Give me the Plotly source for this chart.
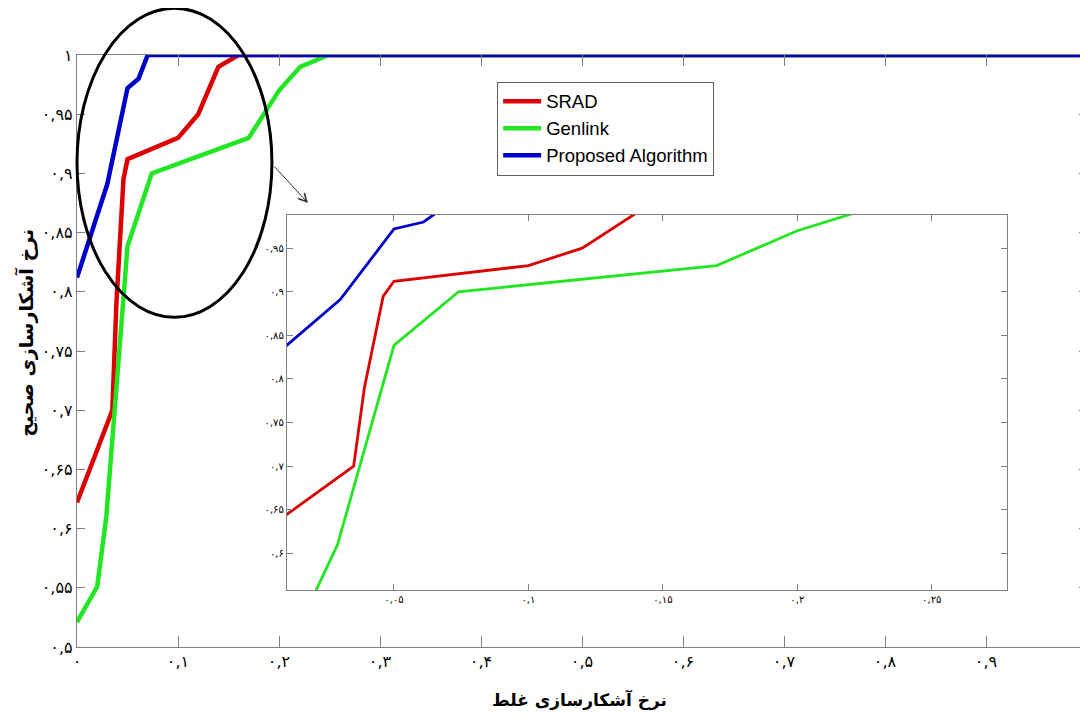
import plotly.graph_objects as go

# ---- data ----
series_names = ["SRAD", "Genlink", "Proposed Algorithm"]
series_colors = ["#dd0000", "#22e622", "#0000c8"]

fpr_srad = [0.0, 0.035, 0.039, 0.046, 0.05, 0.10, 0.12, 0.14, 0.16, 1.0]
tpr_srad = [0.622, 0.70, 0.79, 0.895, 0.912, 0.93, 0.95, 0.99, 1.0, 1.0]

fpr_genlink = [0.0, 0.02, 0.029, 0.05, 0.074, 0.17, 0.20, 0.221, 0.249, 1.0]
tpr_genlink = [0.521, 0.551, 0.61, 0.8385, 0.90, 0.93, 0.97, 0.99, 1.0, 1.0]

fpr_prop = [0.0, 0.03, 0.05, 0.061, 0.07, 1.0]
tpr_prop = [0.812, 0.891, 0.972, 0.98, 1.0, 1.0]

main_xticks = [0.0, 0.1, 0.2, 0.3, 0.4, 0.5, 0.6, 0.7, 0.8, 0.9, 1.0]
main_yticks = [0.5, 0.55, 0.6, 0.65, 0.7, 0.75, 0.8, 0.85, 0.9, 0.95, 1.0]
inset_xticks = [0.05, 0.1, 0.15, 0.2, 0.25]
inset_yticks = [0.6, 0.65, 0.7, 0.75, 0.8, 0.85, 0.9, 0.95]

x_title = "نرخ آشکارسازی غلط"
y_title = "نرخ آشکارسازی صحیح"

PERSIAN = str.maketrans("0123456789.", "۰۱۲۳۴۵۶۷۸۹,")


def fa(v):
    return f"{v:g}".translate(PERSIAN)


xs = [fpr_srad, fpr_genlink, fpr_prop]
ys = [tpr_srad, tpr_genlink, tpr_prop]
main_widths = [4.5, 4.5, 4.5]

fig = go.Figure()
for name, color, x, y, w in zip(series_names, series_colors, xs, ys, main_widths):
    fig.add_trace(go.Scatter(x=x, y=y, mode="lines", name=name,
                             line=dict(color=color, width=w),
                             xaxis="x", yaxis="y"))
for name, color, x, y in zip(series_names, series_colors, xs, ys):
    fig.add_trace(go.Scatter(x=x, y=y, mode="lines", name=name, showlegend=False,
                             line=dict(color=color, width=2.8),
                             xaxis="x2", yaxis="y2"))

axis_common = dict(showgrid=False, zeroline=False, showline=True,
                   linecolor="#808080", linewidth=1.3, mirror="ticks",
                   ticks="inside", tickcolor="#808080", automargin=False)

inset_x0, inset_x1 = 0.2079, 0.9208
inset_y0, inset_y1 = 0.0963, 0.7297

# the label at x=1 falls on the cut-off right edge in the reference
main_xtext = [fa(v) if v < 1 else "" for v in main_xticks]

# the page body adds an 8px offset, so margins are compensated
fig.update_layout(
    width=1088, height=720,
    margin=dict(l=69, r=9, t=47, b=81, autoexpand=False),
    paper_bgcolor="white", plot_bgcolor="white",
    font=dict(family="DejaVu Sans", color="black"),
    xaxis=dict(domain=[0, 1], range=[0, 1], tickvals=main_xticks,
               ticktext=main_xtext, ticklen=11,
               tickfont=dict(size=16, family="DejaVu Sans"), **axis_common),
    yaxis=dict(domain=[0, 1], range=[0.5, 1], tickvals=main_yticks,
               ticktext=[fa(v) for v in main_yticks], ticklen=8,
               tickfont=dict(size=16, family="DejaVu Sans"), **axis_common),
    xaxis2=dict(domain=[inset_x0, inset_x1], range=[0.0102, 0.278], anchor="y2",
                tickvals=inset_xticks, ticktext=[fa(v) for v in inset_xticks],
                ticklen=6, tickfont=dict(size=10, family="DejaVu Sans"), **axis_common),
    yaxis2=dict(domain=[inset_y0, inset_y1], range=[0.558, 0.988], anchor="x2",
                tickvals=inset_yticks, ticktext=[fa(v) for v in inset_yticks],
                ticklen=6, tickfont=dict(size=10, family="DejaVu Sans"), **axis_common),
    legend=dict(x=0.416, y=0.955, xanchor="left", yanchor="top",
                bgcolor="white", bordercolor="#606060", borderwidth=1,
                font=dict(family="Liberation Sans", size=18.5, color="black"),
                tracegroupgap=0, itemwidth=38),
    showlegend=True,
)

# zoom ellipse and arrow
fig.add_shape(type="circle", xref="paper", yref="paper",
              x0=0.0, x1=0.193, y0=0.557, y1=1.079,
              line=dict(color="black", width=3))
fig.add_annotation(xref="paper", yref="paper", x=0.2287, y=0.75,
                   ax=-35, ay=-38, axref="pixel", ayref="pixel", text="",
                   showarrow=True, arrowhead=5, arrowsize=1.6, arrowwidth=1,
                   arrowcolor="#303030")

# axis titles
fig.add_annotation(xref="paper", yref="paper", x=0.498, y=-0.09,
                   text="<b>" + x_title + "</b>", showarrow=False,
                   font=dict(size=17, family="DejaVu Sans", color="black"),
                   xanchor="center", yanchor="middle")
fig.add_annotation(xref="paper", yref="paper", x=-0.05, y=0.53,
                   text="<b>" + y_title + "</b>", showarrow=False, textangle=-90,
                   font=dict(size=19, family="DejaVu Sans", color="black"),
                   xanchor="center", yanchor="middle")

fig.write_html("out.html")
